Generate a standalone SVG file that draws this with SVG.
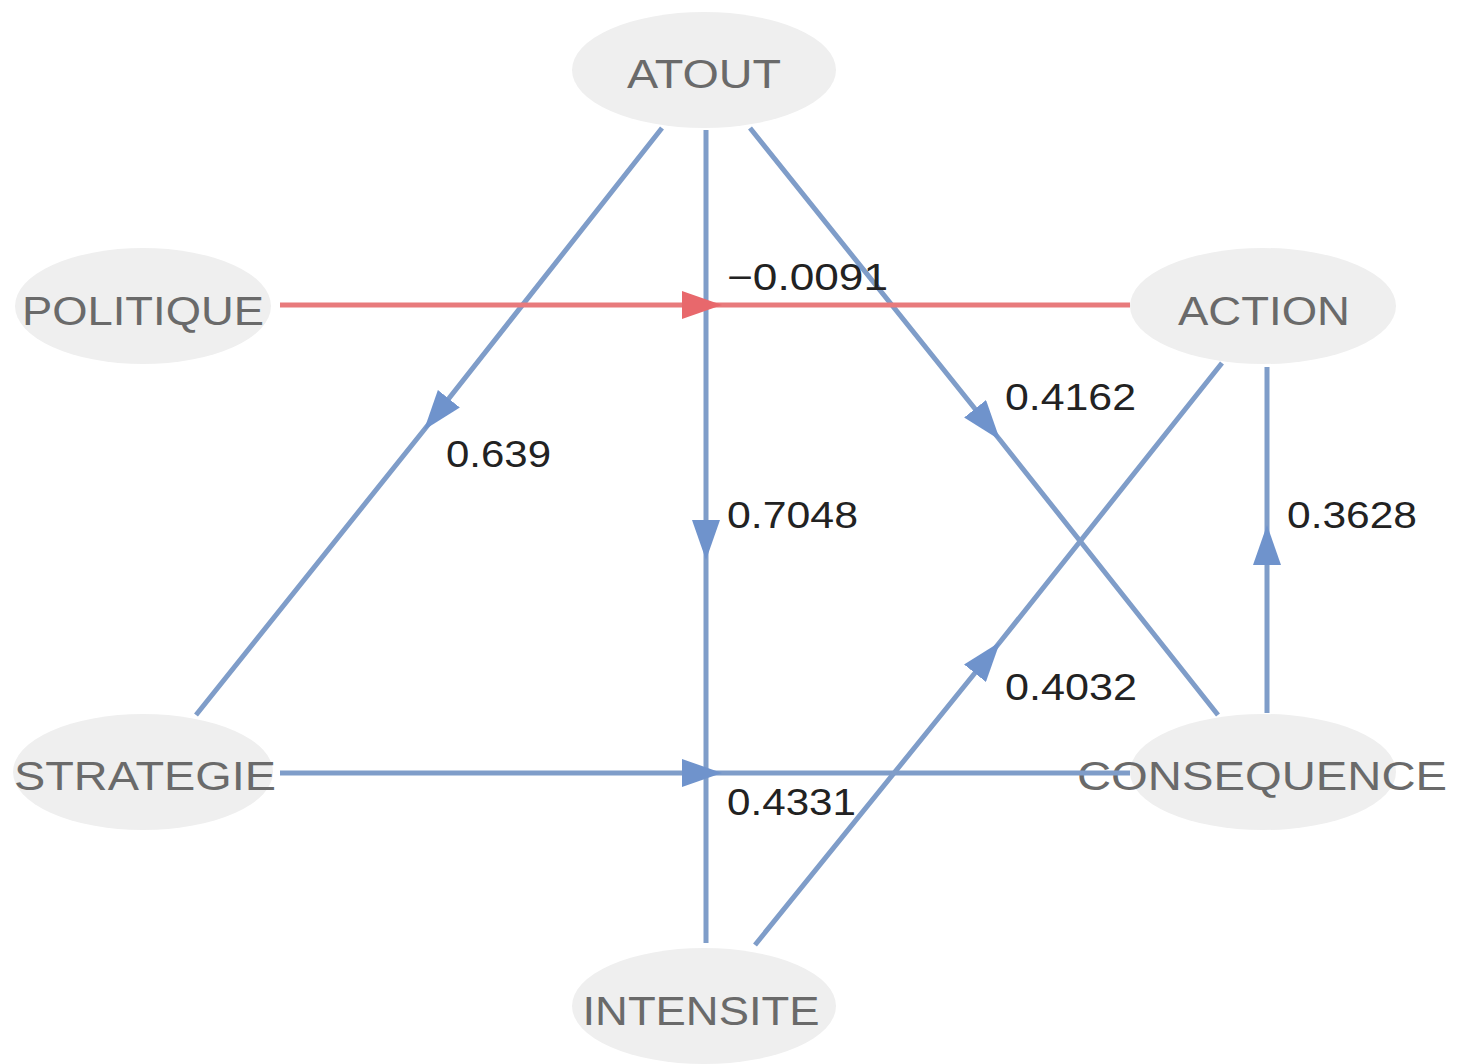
<svg xmlns="http://www.w3.org/2000/svg" width="1461" height="1064" viewBox="0 0 1461 1064">
<style>
.node ellipse{fill:#efefef;}
.node text{font-family:"Liberation Sans",Arial,sans-serif;font-size:40px;fill:#6a6a6a;text-anchor:middle;}
.edge{fill:none;stroke:#7f9dc9;stroke-width:5;}
.neg{stroke:#e87a7c;}
.lbl{font-family:"Liberation Sans",Arial,sans-serif;font-size:37px;fill:#222;}
</style>
<defs>
<marker id="ab" markerUnits="userSpaceOnUse" viewBox="0 0 40 28" refX="40" refY="14" markerWidth="40" markerHeight="28" orient="auto">
<path d="M0,0 L40,14 L0,28 z" fill="#6f93cc"/>
</marker>
<marker id="ar" markerUnits="userSpaceOnUse" viewBox="0 0 40 28" refX="40" refY="14" markerWidth="40" markerHeight="28" orient="auto">
<path d="M0,0 L40,14 L0,28 z" fill="#e8686c"/>
</marker>
</defs>
<rect width="1461" height="1064" fill="#ffffff"/>
<g id="ATOUT" class="node"><ellipse cx="704" cy="70" rx="132" ry="58"/><text x="704" y="88" textLength="154" lengthAdjust="spacingAndGlyphs">ATOUT</text></g>
<g id="POLITIQUE" class="node"><ellipse cx="143" cy="306" rx="128" ry="58"/><text x="143" y="325" textLength="242" lengthAdjust="spacingAndGlyphs">POLITIQUE</text></g>
<g id="ACTION" class="node"><ellipse cx="1263" cy="306" rx="133" ry="58"/><text x="1264" y="325" textLength="172" lengthAdjust="spacingAndGlyphs">ACTION</text></g>
<g id="STRATEGIE" class="node"><ellipse cx="143" cy="772" rx="130" ry="58"/><text x="145" y="790" textLength="262" lengthAdjust="spacingAndGlyphs">STRATEGIE</text></g>
<g id="CONSEQUENCE" class="node"><ellipse cx="1263" cy="772" rx="133" ry="58"/><text x="1262" y="790" textLength="370" lengthAdjust="spacingAndGlyphs">CONSEQUENCE</text></g>
<g id="INTENSITE" class="node"><ellipse cx="704" cy="1006" rx="132" ry="58"/><text x="701" y="1025" textLength="237" lengthAdjust="spacingAndGlyphs">INTENSITE</text></g>
<g id="connectors">
<path class="edge" d="M662,128 L424,430 L196,715" marker-mid="url(#ab)"/>
<path class="edge" d="M706,130 L706,560 L706,943" marker-mid="url(#ab)"/>
<path class="edge" d="M750,128 L1000,440 L1218,715" marker-mid="url(#ab)"/>
<path class="edge neg" d="M280,305 L722,305 L1130,305" marker-mid="url(#ar)"/>
<path class="edge" d="M280,773 L722,773 L1130,773" marker-mid="url(#ab)"/>
<path class="edge" d="M755,945 L1000,642 L1222,363" marker-mid="url(#ab)"/>
<path class="edge" d="M1267,713 L1267,525 L1267,367" marker-mid="url(#ab)"/>
<text class="lbl" x="446" y="467" textLength="105" lengthAdjust="spacingAndGlyphs">0.639</text>
<text class="lbl" x="727" y="528" textLength="131" lengthAdjust="spacingAndGlyphs">0.7048</text>
<text class="lbl" x="1005" y="410" textLength="131" lengthAdjust="spacingAndGlyphs">0.4162</text>
<text class="lbl" x="727" y="290" textLength="161" lengthAdjust="spacingAndGlyphs">−0.0091</text>
<text class="lbl" x="727" y="815" textLength="129" lengthAdjust="spacingAndGlyphs">0.4331</text>
<text class="lbl" x="1005" y="700" textLength="132" lengthAdjust="spacingAndGlyphs">0.4032</text>
<text class="lbl" x="1287" y="528" textLength="130" lengthAdjust="spacingAndGlyphs">0.3628</text>
</g>
</svg>
